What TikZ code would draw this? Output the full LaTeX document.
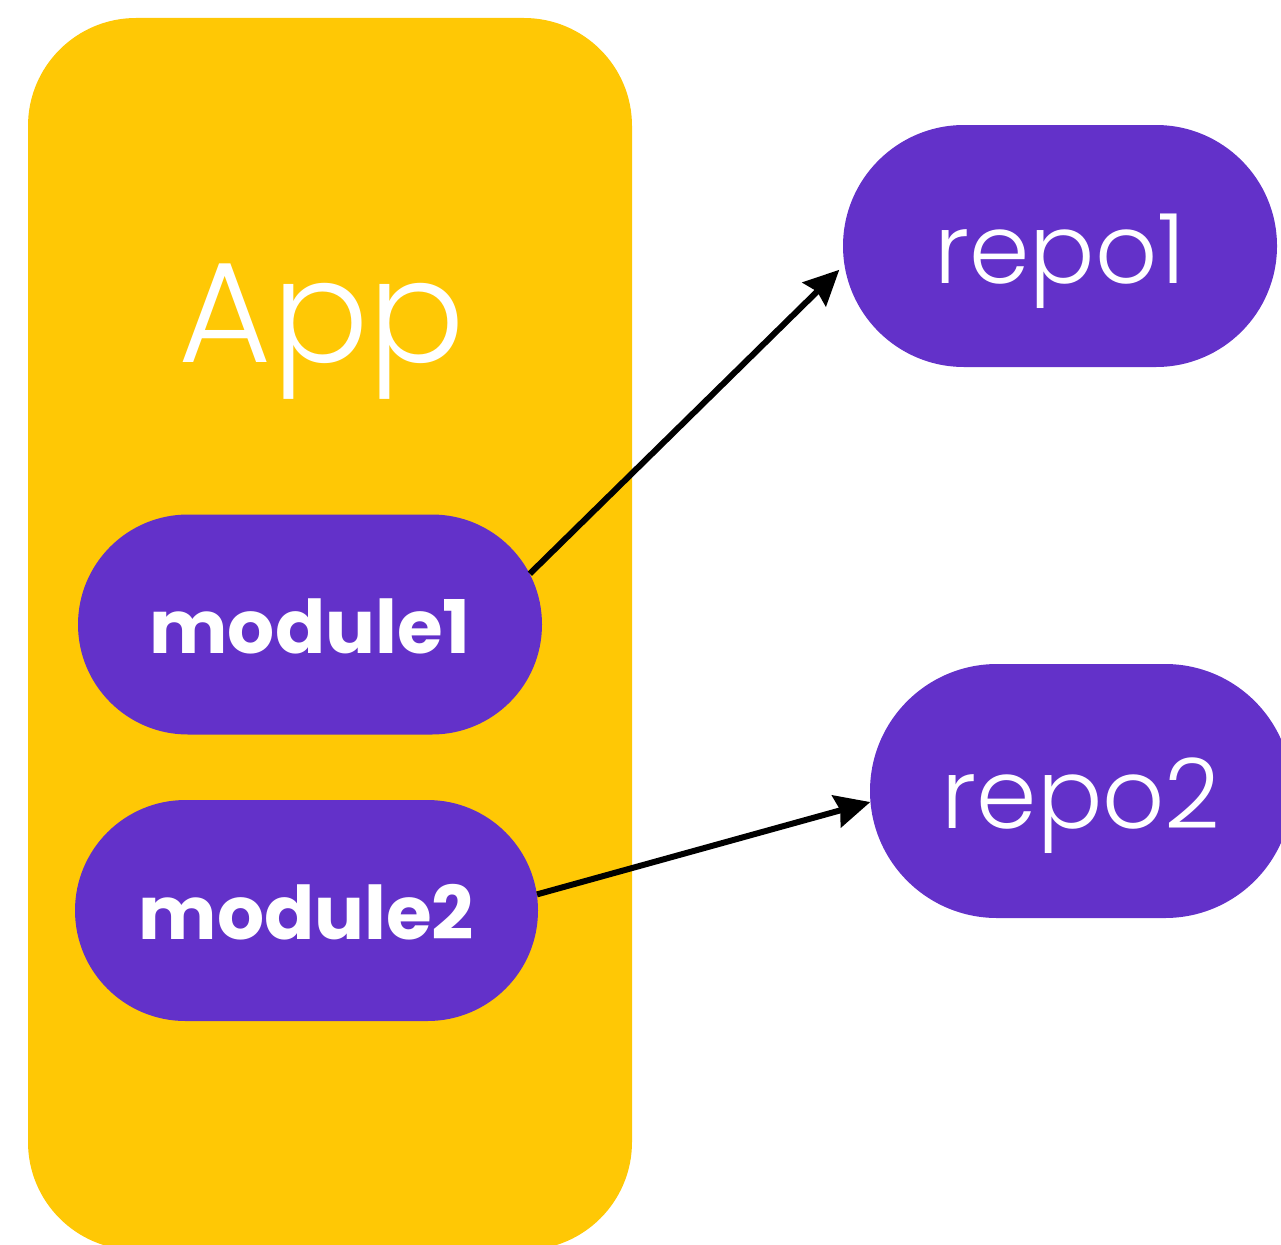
\documentclass[tikz,border=0pt]{standalone}
\usepackage{fontspec}
\setmainfont{Poppins}
\IfFontExistsTF{Poppins Light}{\newfontfamily\thinfont{Poppins Light}}{\newfontfamily\thinfont{Poppins}}
\usetikzlibrary{shapes.misc, arrows.meta}
\definecolor{appyellow}{HTML}{FFC805}
\definecolor{pillpurple}{HTML}{6331C9}
\begin{document}
\begin{tikzpicture}[x=1pt, y=-1pt,
  pill/.style={rounded rectangle, fill=pillpurple, text=white, inner sep=0pt},
  modpill/.style={pill, font=\bfseries\fontsize{74}{74}\selectfont, text height=57pt, text depth=0pt},
  repopill/.style={pill, font=\thinfont\fontsize{97}{97}\selectfont, text height=74pt, text depth=0pt},
  link/.style={line width=6pt, -{Stealth[length=35pt, width=33pt, inset=4pt]}}]
  \useasboundingbox (0,0) rectangle (1281,1244);
  \clip (0,0) rectangle (1281,1244);

  % application container
  \node[fill=appyellow, rounded corners=108pt, minimum width=604pt, minimum height=1232pt, inner sep=0pt] (app) at (330,634) {};
  \node[font=\thinfont\fontsize{143}{143}\selectfont, text=white, anchor=base] (apptitle) at (322,362) {App};

  % modules inside the app
  \node[modpill, minimum width=464pt, minimum height=220pt] (m1) at (310,624.5) {module1};
  \node[modpill, minimum width=463pt, minimum height=221pt] (m2) at (306.5,910.5) {module2};

  % repositories
  \node[repopill, minimum width=434pt, minimum height=242pt] (r1) at (1060,246) {repo1};
  \node[repopill, minimum width=422pt, minimum height=254pt] (r2) at (1081,791) {repo2};

  % dependencies
  \draw[link, shorten >=7pt] (m1.13) -- (r1.185);
  \draw[link] (m2.4) -- (r2.183);
\end{tikzpicture}
\end{document}
